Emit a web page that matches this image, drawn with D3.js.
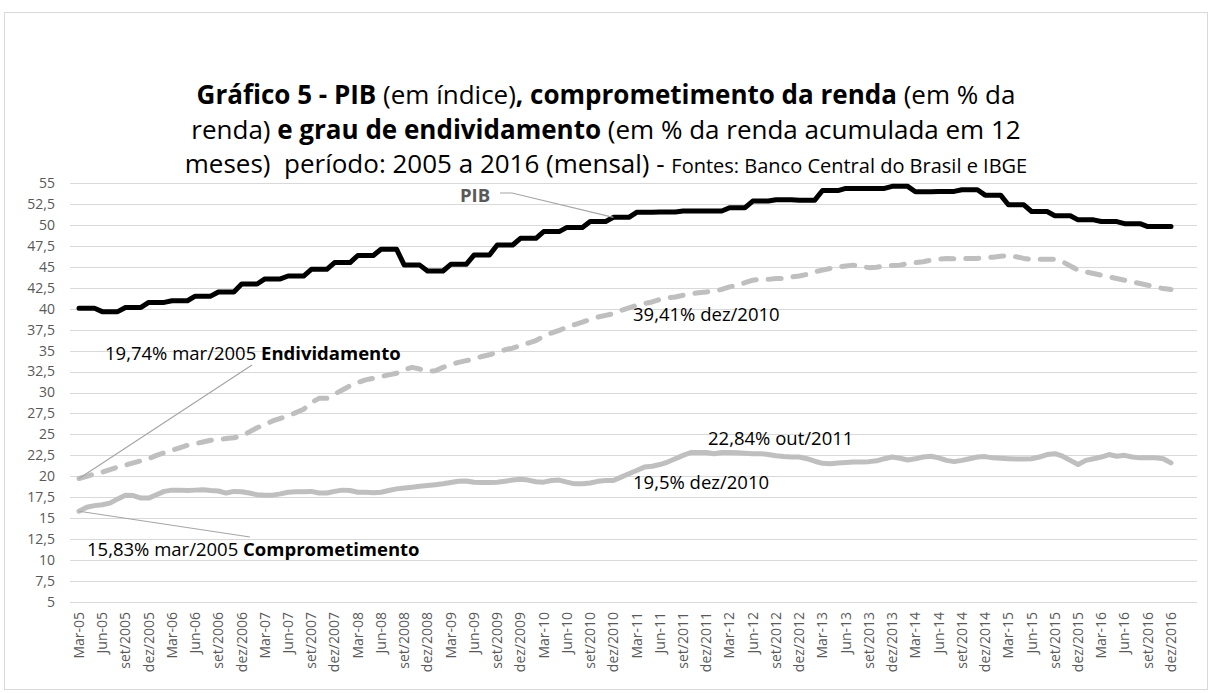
<!DOCTYPE html>
<html>
<head>
<meta charset="utf-8">
<script src="https://cdn.jsdelivr.net/npm/d3@7"></script>
<style>
    body { margin: 0; background: #fff; }
    text { font-family: "Open Sans", sans-serif; }
</style>
</head>
<body>
<div id="chart"></div>
<script>
// monthly, Mar-05 .. dez/2016 (142 months)
const pib = [
    40.05, 40.05, 40.05, 39.65, 39.65, 39.65, 40.15, 40.15, 40.15, 40.75, 40.75, 40.75,
    40.95, 40.95, 40.95, 41.5, 41.5, 41.5, 42.0, 42.0, 42.0, 42.95, 42.95, 42.95,
    43.55, 43.55, 43.55, 43.9, 43.9, 43.9, 44.7, 44.7, 44.7, 45.5, 45.5, 45.5,
    46.35, 46.35, 46.35, 47.1, 47.1, 47.1, 45.2, 45.2, 45.2, 44.5, 44.5, 44.5,
    45.3, 45.3, 45.3, 46.4, 46.4, 46.4, 47.6, 47.6, 47.6, 48.4, 48.4, 48.4,
    49.2, 49.2, 49.2, 49.7, 49.7, 49.7, 50.4, 50.4, 50.4, 50.9, 50.9, 50.9,
    51.5, 51.5, 51.5, 51.55, 51.55, 51.55, 51.65, 51.65, 51.65, 51.65, 51.65, 51.65,
    52.05, 52.05, 52.05, 52.85, 52.85, 52.85, 53.0, 53.0, 53.0, 52.95, 52.95, 52.95,
    54.1, 54.1, 54.1, 54.35, 54.35, 54.35, 54.35, 54.35, 54.35, 54.6, 54.6, 54.6,
    53.95, 53.95, 53.95, 54.0, 54.0, 54.0, 54.2, 54.2, 54.2, 53.55, 53.55, 53.55,
    52.4, 52.4, 52.4, 51.6, 51.6, 51.6, 51.1, 51.1, 51.1, 50.6, 50.6, 50.6,
    50.4, 50.4, 50.4, 50.15, 50.15, 50.15, 49.8, 49.8, 49.8, 49.8
];

const endividamento = [
    19.74, 20.0, 20.3, 20.5, 20.8, 21.1, 21.35, 21.6, 21.85, 22.1, 22.5, 22.8,
    23.1, 23.4, 23.7, 23.9, 24.1, 24.3, 24.4, 24.5, 24.6, 24.8, 25.3, 25.8,
    26.2, 26.6, 26.9, 27.2, 27.6, 28.0, 28.8, 29.3, 29.3, 29.8, 30.3, 30.8,
    31.2, 31.5, 31.7, 31.9, 32.1, 32.3, 32.7, 33.0, 32.8, 32.5, 32.6, 33.0,
    33.3, 33.6, 33.8, 34.0, 34.3, 34.5, 34.8, 35.1, 35.3, 35.6, 35.9, 36.2,
    36.7, 37.1, 37.4, 37.8, 38.1, 38.4, 38.7, 39.0, 39.2, 39.41, 39.8, 40.1,
    40.4, 40.6, 40.8, 41.1, 41.3, 41.4, 41.6, 41.8, 41.9, 42.0, 42.1, 42.3,
    42.6, 42.8, 43.1, 43.4, 43.5, 43.5, 43.6, 43.6, 43.8, 43.9, 44.1, 44.4,
    44.6, 44.8, 45.0, 45.1, 45.2, 45.0, 44.9, 44.95, 45.1, 45.15, 45.2, 45.4,
    45.5, 45.6, 45.8, 45.9, 46.0, 45.95, 46.0, 46.0, 46.0, 46.1, 46.15, 46.25,
    46.35, 46.2, 46.0, 45.9, 45.9, 45.9, 45.9, 45.6, 45.1, 44.6, 44.4, 44.2,
    44.0, 43.8, 43.6, 43.4, 43.2, 43.0, 42.8, 42.6, 42.4, 42.3
];

const comprometimento = [
    15.83, 16.3, 16.5, 16.6, 16.8, 17.3, 17.75, 17.7, 17.4, 17.4, 17.8, 18.2,
    18.35, 18.35, 18.3, 18.35, 18.4, 18.3, 18.25, 18.0, 18.2, 18.15, 18.0, 17.8,
    17.75, 17.75, 17.9, 18.1, 18.15, 18.15, 18.2, 18.0, 18.0, 18.2, 18.35, 18.3,
    18.1, 18.1, 18.05, 18.1, 18.3, 18.5, 18.6, 18.7, 18.8, 18.9, 19.0, 19.1,
    19.25, 19.4, 19.45, 19.3, 19.25, 19.25, 19.3, 19.4, 19.55, 19.65, 19.55, 19.35,
    19.3, 19.5, 19.55, 19.3, 19.1, 19.1, 19.2, 19.4, 19.5, 19.5, 19.9, 20.3,
    20.7, 21.1, 21.2, 21.4, 21.7, 22.1, 22.5, 22.84, 22.85, 22.85, 22.7, 22.85,
    22.85, 22.8, 22.75, 22.7, 22.7, 22.6, 22.45, 22.35, 22.3, 22.3, 22.1, 21.8,
    21.55, 21.5, 21.6, 21.65, 21.7, 21.7, 21.75, 21.85, 22.1, 22.3, 22.15, 21.95,
    22.1, 22.3, 22.4, 22.2, 21.9, 21.75, 21.9, 22.1, 22.3, 22.35, 22.2, 22.15,
    22.1, 22.05, 22.05, 22.1, 22.3, 22.6, 22.7, 22.4, 21.9, 21.4, 21.9, 22.1,
    22.3, 22.6, 22.4, 22.5, 22.3, 22.2, 22.2, 22.2, 22.1, 21.6
];

// one label every 3 months
const tickLabels = [
    "Mar-05", "Jun-05", "set/2005", "dez/2005", "Mar-06", "Jun-06", "set/2006", "dez/2006",
    "Mar-07", "Jun-07", "set/2007", "dez/2007", "Mar-08", "Jun-08", "set/2008", "dez/2008",
    "Mar-09", "Jun-09", "set/2009", "dez/2009", "Mar-10", "Jun-10", "set/2010", "dez/2010",
    "Mar-11", "Jun-11", "set/2011", "dez/2011", "Mar-12", "Jun-12", "set/2012", "dez/2012",
    "Mar-13", "Jun-13", "set/2013", "dez/2013", "Mar-14", "Jun-14", "set/2014", "dez/2014",
    "Mar-15", "Jun-15", "set/2015", "dez/2015", "Mar-16", "Jun-16", "set/2016", "dez/2016"
];

const yTicks = d3.range(5, 55.01, 2.5);

const width = 1212, height = 693;
const plot = { left: 70, right: 1197, top: 183, bottom: 602 };

const svg = d3.select("#chart").append("svg")
    .attr("width", width)
    .attr("height", height);

svg.append("rect")
    .attr("x", 4.5).attr("y", 12.5)
    .attr("width", 1203).attr("height", 677)
    .attr("fill", "#fff")
    .attr("stroke", "#d9d9d9");

const x = d3.scaleLinear().domain([0, pib.length - 1]).range([79, 1171]);
const y = d3.scaleLinear().domain([5, 55]).range([plot.bottom, plot.top]);

// gridlines
svg.append("g")
    .selectAll("line")
    .data(yTicks)
    .join("line")
    .attr("x1", plot.left).attr("x2", plot.right)
    .attr("y1", (d) => Math.round(y(d)) + 0.5)
    .attr("y2", (d) => Math.round(y(d)) + 0.5)
    .attr("stroke", "#d9d9d9")
    .attr("stroke-width", 1);

const fmt = (d) => String(d).replace(".", ",");

svg.append("g")
    .selectAll("text")
    .data(yTicks)
    .join("text")
    .attr("x", 55)
    .attr("y", (d) => y(d))
    .attr("dy", "0.35em")
    .attr("text-anchor", "end")
    .attr("fill", "#595959")
    .style("font-size", "14px")
    .text(fmt);

svg.append("g")
    .selectAll("text")
    .data(tickLabels)
    .join("text")
    .attr("transform", (d, i) => `translate(${x(i * 3)},612) rotate(-90)`)
    .attr("text-anchor", "end")
    .attr("dy", "0.35em")
    .attr("fill", "#595959")
    .style("font-size", "14px")
    .text((d) => d);

const line = d3.line()
    .x((d, i) => x(i))
    .y((d) => y(d));

svg.append("path")
    .datum(comprometimento)
    .attr("d", line)
    .attr("fill", "none")
    .attr("stroke", "#bfbfbf")
    .attr("stroke-width", 5)
    .attr("stroke-linejoin", "round")
    .attr("stroke-linecap", "round");

svg.append("path")
    .datum(endividamento)
    .attr("d", line)
    .attr("fill", "none")
    .attr("stroke", "#bfbfbf")
    .attr("stroke-width", 5)
    .attr("stroke-dasharray", "13 12")
    .attr("stroke-linejoin", "round")
    .attr("stroke-linecap", "round");

svg.append("path")
    .datum(pib)
    .attr("d", line)
    .attr("fill", "none")
    .attr("stroke", "#000")
    .attr("stroke-width", 5)
    .attr("stroke-linejoin", "round")
    .attr("stroke-linecap", "round");

// leader lines
const leader = (pts) => svg.append("polyline")
    .attr("points", pts.map((p) => p.join(",")).join(" "))
    .attr("fill", "none")
    .attr("stroke", "#a6a6a6")
    .attr("stroke-width", 1.2);

leader([[500, 193], [512, 193], [x(69), y(pib[69])]]);
leader([[252, 365], [x(0), y(endividamento[0])]]);
leader([[x(0), y(comprometimento[0])], [250, 537]]);

// annotations
const note = (tx, ty, parts, color) => {
    const t = svg.append("text")
        .attr("x", tx).attr("y", ty)
        .attr("fill", color || "#000")
        .style("font-size", "18.5px")
        .style("white-space", "pre");
    parts.forEach((p) => t.append("tspan").attr("font-weight", p[1] ? "bold" : null).text(p[0]));
};

note(460, 202, [["PIB", true]], "#595959");
note(105, 360, [["19,74% mar/2005 ", false], ["Endividamento", true]]);
note(87, 556, [["15,83% mar/2005 ", false], ["Comprometimento", true]]);
note(633, 321, [["39,41% dez/2010", false]]);
note(633, 489, [["19,5% dez/2010", false]]);
note(708, 445, [["22,84% out/2011", false]]);

// title
const titleLines = [
    [["Gráfico 5 - PIB", true], [" (em índice)", false], [", comprometimento da renda", true], [" (em % da", false]],
    [["renda)", false], [" e grau de endividamento", true], [" (em % da renda acumulada em 12", false]],
    [["meses)  período: 2005 a 2016 (mensal) - ", false], ["Fontes: Banco Central do Brasil e IBGE", false, 20]]
];
const titleY = [104, 139, 173];

titleLines.forEach((parts, k) => {
    const t = svg.append("text")
        .attr("x", 606).attr("y", titleY[k])
        .attr("text-anchor", "middle")
        .attr("fill", "#000")
        .style("font-size", "26px")
        .style("white-space", "pre");
    parts.forEach((p) => {
        const s = t.append("tspan").attr("font-weight", p[1] ? "bold" : null).text(p[0]);
        if (p[2]) s.style("font-size", p[2] + "px");
    });
});
</script>
</body>
</html>
